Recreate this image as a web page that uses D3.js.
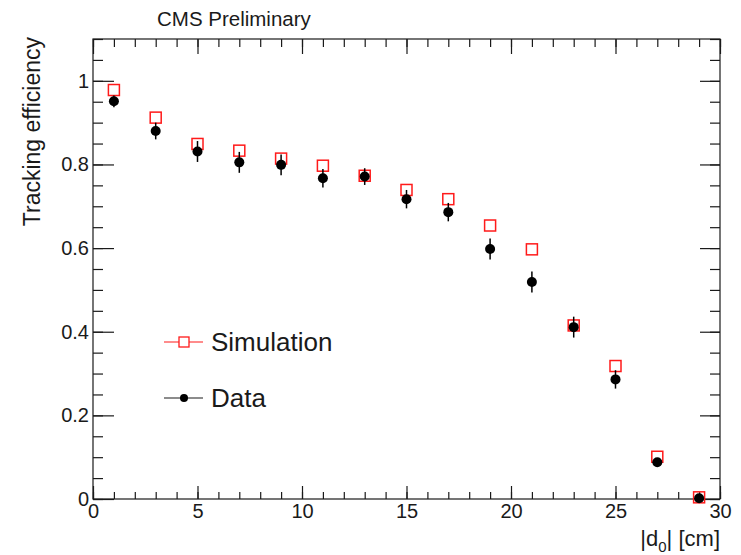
<!DOCTYPE html>
<html>
<head>
<meta charset="utf-8">
<script src="https://cdn.jsdelivr.net/npm/d3@7"></script>
<style>
  body { margin: 0; background: #fff; }
  svg { display: block; font-family: "Liberation Sans", Arial, Helvetica, sans-serif; }
</style>
</head>
<body>
<div id="chart"></div>
<script>
// values
var d0Bins = [1, 3, 5, 7, 9, 11, 13, 15, 17, 19, 21, 23, 25, 27, 29]
var simEff = [0.978, 0.912, 0.849, 0.833, 0.814, 0.797, 0.773, 0.739, 0.717, 0.654, 0.597, 0.415, 0.318, 0.101, 0.004]
var dataEff = [0.951, 0.880, 0.831, 0.805, 0.799, 0.767, 0.771, 0.717, 0.686, 0.598, 0.519, 0.411, 0.286, 0.088, 0.002]
var dataErr = [0.014, 0.020, 0.025, 0.025, 0.025, 0.022, 0.020, 0.022, 0.022, 0.025, 0.025, 0.025, 0.022, 0.010, 0.003]
var xTicks = [0, 5, 10, 15, 20, 25, 30]
var yTicks = [0, 0.2, 0.4, 0.6, 0.8, 1]
var legendNames = ["Simulation", "Data"]

var width = 741
var height = 555
var margin = {top: 39, right: 21, bottom: 56, left: 93}

var svg = d3.select("#chart")
  .append("svg")
  .attr("width", width)
  .attr("height", height)

var xScale = d3.scaleLinear()
  .domain([0, 30])
  .range([margin.left, width - margin.right])

var yScale = d3.scaleLinear()
  .domain([0, 1.1])
  .range([height - margin.bottom, margin.top])

var plotW = width - margin.left - margin.right
var plotH = height - margin.top - margin.bottom

// frame
svg.append("rect")
  .attr("x", margin.left)
  .attr("y", margin.top)
  .attr("width", plotW)
  .attr("height", plotH)
  .style("fill", "none")
  .style("stroke", "#1a1a1a")
  .style("stroke-width", 1.2)

function drawTicks(axis, tx, ty, showText) {
  var g = svg.append("g")
    .attr("transform", `translate(${tx},${ty})`)
    .call(axis)
  g.select(".domain").remove()
  g.selectAll(".tick line").style("stroke", "#1a1a1a").style("stroke-width", 1.2)
  if (!showText) g.selectAll(".tick text").remove()
  else g.selectAll(".tick text").style("font-size", "20px").style("fill", "#1a1a1a")
  return g
}

var xMinor = xScale.ticks(30)
var yMinor = yScale.ticks(22)
var bottomY = height - margin.bottom
var rightX = width - margin.right

// bottom axis
drawTicks(d3.axisBottom(xScale).tickValues(xMinor).tickSize(-7).tickFormat(""), 0, bottomY, false)
drawTicks(d3.axisBottom(xScale).tickValues(xTicks).tickSize(-13).tickPadding(5).tickFormat(d => d), 0, bottomY, true)
// top axis
drawTicks(d3.axisTop(xScale).tickValues(xMinor).tickSize(-8).tickFormat(""), 0, margin.top, false)
drawTicks(d3.axisTop(xScale).tickValues(xTicks).tickSize(-15).tickFormat(""), 0, margin.top, false)
// left axis
drawTicks(d3.axisLeft(yScale).tickValues(yMinor).tickSize(-10).tickFormat(""), margin.left, 0, false)
drawTicks(d3.axisLeft(yScale).tickValues(yTicks).tickSize(-21).tickPadding(4).tickFormat(d => d3.format("~g")(d)), margin.left, 0, true)
// right axis
drawTicks(d3.axisRight(yScale).tickValues(yMinor).tickSize(-10).tickFormat(""), rightX, 0, false)
drawTicks(d3.axisRight(yScale).tickValues(yTicks).tickSize(-20).tickFormat(""), rightX, 0, false)

// titles
svg.append("text")
  .attr("x", 157)
  .attr("y", 26)
  .style("font-size", "20.5px")
  .style("fill", "#1a1a1a")
  .text("CMS Preliminary")

svg.append("text")
  .attr("transform", `translate(40,${margin.top - 2}) rotate(-90)`)
  .attr("text-anchor", "end")
  .style("font-size", "23px")
  .style("fill", "#1a1a1a")
  .text("Tracking efficiency")

var xLabel = svg.append("text")
  .attr("x", rightX)
  .attr("y", 546)
  .attr("text-anchor", "end")
  .style("font-size", "22px")
  .style("fill", "#1a1a1a")
xLabel.append("tspan").text("|d")
xLabel.append("tspan").attr("dy", 6).style("font-size", "15px").text("0")
xLabel.append("tspan").attr("dy", -6).text("| [cm]")

var points = d0Bins.map((x, i) => ({x: x, sim: simEff[i], data: dataEff[i], err: dataErr[i]}))

// simulation squares
svg.append("g")
  .selectAll("rect")
  .data(points)
  .enter()
  .append("rect")
  .attr("x", d => xScale(d.x) - 5.5)
  .attr("y", d => yScale(d.sim) - 5.5)
  .attr("width", 11)
  .attr("height", 11)
  .style("fill", "none")
  .style("stroke", "#ff1a1a")
  .style("stroke-width", 1.5)

// data error bars
svg.append("g")
  .selectAll("line")
  .data(points)
  .enter()
  .append("line")
  .attr("x1", d => xScale(d.x))
  .attr("x2", d => xScale(d.x))
  .attr("y1", d => yScale(d.data + d.err))
  .attr("y2", d => yScale(d.data - d.err))
  .style("stroke", "#000")
  .style("stroke-width", 1.5)

// data points
svg.append("g")
  .selectAll("circle")
  .data(points)
  .enter()
  .append("circle")
  .attr("cx", d => xScale(d.x))
  .attr("cy", d => yScale(d.data))
  .attr("r", 5)
  .style("fill", "#000")

// legend
var legend = svg.append("g")
  .attr("transform", "translate(164,342)")

legendNames.forEach((name, i) => {
  var row = legend.append("g").attr("transform", `translate(0,${i * 56})`)
  var col = i == 0 ? "#ff1a1a" : "#1a1a1a"
  row.append("line")
    .attr("x1", 0).attr("x2", 39)
    .style("stroke", col)
    .style("stroke-width", 1.2)
  if (i == 0) {
    row.append("rect")
      .attr("x", 15).attr("y", -5)
      .attr("width", 10).attr("height", 10)
      .style("fill", "#fff")
      .style("stroke", col)
      .style("stroke-width", 1.3)
  } else {
    row.append("circle")
      .attr("cx", 20).attr("r", 4)
      .style("fill", "#000")
  }
  row.append("text")
    .attr("x", 47)
    .attr("y", 9)
    .style("font-size", "26px")
    .style("fill", "#1a1a1a")
    .text(name)
})
</script>
</body>
</html>
